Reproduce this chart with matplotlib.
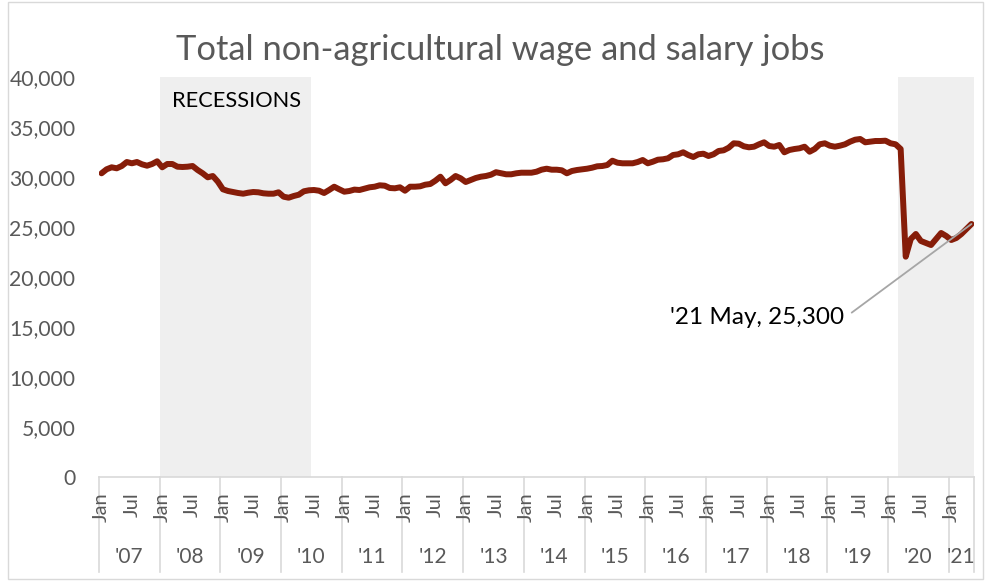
import matplotlib
matplotlib.use('Agg')
import matplotlib.pyplot as plt
import matplotlib.transforms as mtransforms
from matplotlib.patches import Rectangle

# ---------------- data ----------------
title = "Total non-agricultural wage and salary jobs"
year_labels = ["'07", "'08", "'09", "'10", "'11", "'12", "'13", "'14",
               "'15", "'16", "'17", "'18", "'19", "'20", "'21"]
first_year = 2007
month_tick_labels = {0: "Jan", 6: "Jul"}

jobs_2007 = [30370, 30770, 30970, 30870, 31100, 31500, 31370, 31500, 31270, 31130, 31300, 31570]
jobs_2008 = [30970, 31300, 31300, 31030, 31000, 31030, 31100, 30700, 30370, 29970, 30100, 29530]
jobs_2009 = [28770, 28600, 28500, 28400, 28330, 28430, 28500, 28470, 28370, 28330, 28330, 28470]
jobs_2010 = [28030, 27930, 28100, 28230, 28570, 28670, 28700, 28630, 28400, 28700, 29030, 28770]
jobs_2011 = [28530, 28600, 28740, 28700, 28830, 28970, 29030, 29170, 29130, 28900, 28870, 28970]
jobs_2012 = [28630, 29030, 29030, 29070, 29230, 29300, 29630, 30030, 29370, 29700, 30100, 29870]
jobs_2013 = [29500, 29700, 29900, 30030, 30100, 30230, 30480, 30370, 30270, 30270, 30370, 30430]
jobs_2014 = [30430, 30430, 30530, 30730, 30830, 30730, 30730, 30670, 30370, 30600, 30700, 30770]
jobs_2015 = [30830, 30930, 31070, 31100, 31200, 31630, 31430, 31370, 31370, 31370, 31500, 31700]
jobs_2016 = [31370, 31530, 31730, 31770, 31870, 32200, 32270, 32470, 32200, 32000, 32270, 32330]
jobs_2017 = [32100, 32270, 32600, 32670, 32930, 33370, 33330, 33070, 32970, 33030, 33270, 33470]
jobs_2018 = [33100, 33030, 33200, 32470, 32700, 32800, 32870, 33030, 32530, 32800, 33270, 33370]
jobs_2019 = [33130, 33030, 33130, 33270, 33530, 33730, 33800, 33470, 33530, 33600, 33600, 33630]
jobs_2020 = [33370, 33270, 32800, 22030, 23800, 24300, 23600, 23400, 23200, 23800, 24400, 24100]
jobs_2021 = [23700, 23900, 24300, 24800, 25300]

jobs = (jobs_2007 + jobs_2008 + jobs_2009 + jobs_2010 + jobs_2011 + jobs_2012 +
        jobs_2013 + jobs_2014 + jobs_2015 + jobs_2016 + jobs_2017 + jobs_2018 +
        jobs_2019 + jobs_2020 + jobs_2021)

# recession periods (year, month) inclusive
recessions = [((2008, 1), (2010, 6)), ((2020, 3), (2021, 5))]
recession_label = "RECESSIONS"
last_label = "'21 May, 25,300"

y_ticks = [0, 5000, 10000, 15000, 20000, 25000, 30000, 35000, 40000]

# ---------------- styling ----------------
FONT = ['Lato', 'DejaVu Sans']
plt.rcParams['font.family'] = FONT
GRAY_TXT = '#595959'
LINE_COLOR = '#861d09'
SHADE = '#efefef'
AXIS_GRAY = '#d9d9d9'

W, H = 985, 581
fig = plt.figure(figsize=(W / 100, H / 100), dpi=100)

# outer chart border
fig.patches.append(Rectangle((8 / W, 2 / H), 975 / W, 577 / H, transform=fig.transFigure,
                             fill=False, edgecolor=AXIS_GRAY, lw=1.0))

ax_left, ax_right, ax_top, ax_bottom = 99, 974, 77, 477
ax = fig.add_axes([ax_left / W, (H - ax_bottom) / H, (ax_right - ax_left) / W,
                   (ax_bottom - ax_top) / H])

n = len(jobs)
x = list(range(n))
ax.set_xlim(-0.5, n - 0.5)
ax.set_ylim(y_ticks[0], y_ticks[-1])


def idx(ym):
    return (ym[0] - first_year) * 12 + ym[1] - 1


for start, end in recessions:
    ax.axvspan(idx(start) - 0.5, idx(end) + 0.5, color=SHADE, lw=0, zorder=0)

ax.text(idx(recessions[0][0]) - 0.5 + 2.5, 37600, recession_label, fontsize=15.7,
        color='black', ha='left', va='center', zorder=2)

ax.plot(x, jobs, color=LINE_COLOR, lw=4.3, solid_joinstyle='round',
        solid_capstyle='round', zorder=3)

# annotation for last point
ax.annotate(last_label, xy=(n - 1, jobs[-1]), xytext=(-127, -94),
            textcoords='offset pixels', ha='right', va='center', fontsize=17.5,
            color='black', zorder=5,
            arrowprops=dict(arrowstyle='-', color='#a6a6a6', lw=1.3,
                            relpos=(1, 0.5), shrinkA=4, shrinkB=0))

# spines
for s in ['top', 'right', 'left']:
    ax.spines[s].set_visible(False)
ax.spines['bottom'].set_color(AXIS_GRAY)
ax.spines['bottom'].set_linewidth(1.2)

ax.set_yticks(y_ticks)
ax.set_yticklabels([f"{v:,}" for v in y_ticks])
ax.tick_params(axis='y', length=0, pad=17, labelsize=15.2, labelcolor=GRAY_TXT)
ax.set_xticks([])

# two-level category axis
trans = mtransforms.blended_transform_factory(ax.transData, ax.transAxes)
px = 1.0 / (ax_bottom - ax_top)
n_years = len(year_labels)
for k in range(n_years):
    b = k * 12 - 0.5
    ax.plot([b, b], [0, -95 * px], color=AXIS_GRAY, lw=1.2, transform=trans, clip_on=False)
    months_in_year = min(12, n - k * 12)
    for m, lab in month_tick_labels.items():
        if m < months_in_year:
            ax.text(k * 12 + m, -15 * px, lab, rotation=90, ha='center', va='top',
                    fontsize=14.5, color=GRAY_TXT, transform=trans)
    ax.text(k * 12 + (months_in_year - 1) / 2, -80 * px, year_labels[k], ha='center',
            va='center', fontsize=15, color=GRAY_TXT, transform=trans)
ax.plot([n - 0.5, n - 0.5], [0, -95 * px], color=AXIS_GRAY, lw=1.2, transform=trans,
        clip_on=False)

fig.text(500 / W, 1 - 60 / H, title, ha='center', va='baseline', fontsize=24.8,
         color=GRAY_TXT)

fig.savefig('out.png', dpi=100)
